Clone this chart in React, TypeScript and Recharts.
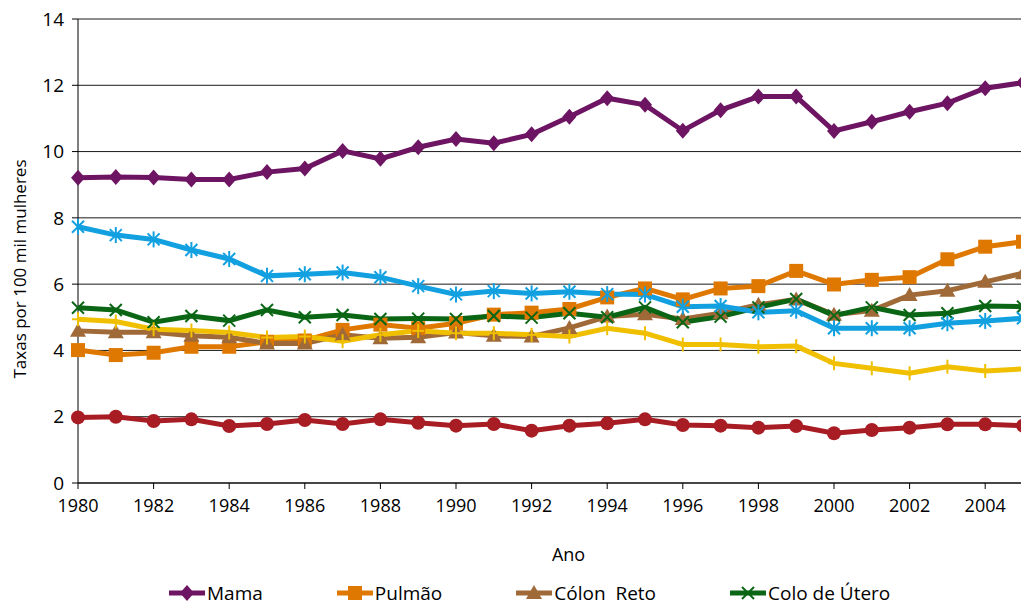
import React from 'react';
import { LineChart, Line, XAxis, YAxis, CartesianGrid, Label } from 'recharts';

const anos = [1980, 1981, 1982, 1983, 1984, 1985, 1986, 1987, 1988, 1989, 1990, 1991, 1992,
  1993, 1994, 1995, 1996, 1997, 1998, 1999, 2000, 2001, 2002, 2003, 2004, 2005];

const mama = [9.21, 9.23, 9.22, 9.16, 9.16, 9.38, 9.49, 10.02, 9.78, 10.13, 10.38, 10.25, 10.52,
  11.05, 11.61, 11.41, 10.63, 11.25, 11.66, 11.66, 10.62, 10.9, 11.2, 11.46, 11.91, 12.08];
const pulmao = [4.01, 3.86, 3.93, 4.11, 4.11, 4.26, 4.3, 4.62, 4.78, 4.67, 4.82, 5.08, 5.14,
  5.25, 5.6, 5.87, 5.54, 5.87, 5.94, 6.4, 5.99, 6.13, 6.21, 6.75, 7.13, 7.28];
const colonReto = [4.59, 4.55, 4.55, 4.44, 4.4, 4.21, 4.21, 4.47, 4.37, 4.4, 4.54, 4.44, 4.42,
  4.68, 5.02, 5.09, 4.95, 5.12, 5.38, 5.54, 5.08, 5.2, 5.67, 5.8, 6.07, 6.33];
const coloUtero = [5.29, 5.22, 4.85, 5.04, 4.9, 5.22, 5.0, 5.07, 4.95, 4.96, 4.95, 5.04, 4.99,
  5.12, 5.0, 5.3, 4.85, 5.02, 5.3, 5.55, 5.05, 5.3, 5.07, 5.12, 5.34, 5.32];
const estomago = [7.73, 7.48, 7.35, 7.03, 6.76, 6.25, 6.3, 6.35, 6.21, 5.94, 5.69, 5.79, 5.72,
  5.77, 5.7, 5.69, 5.32, 5.34, 5.15, 5.2, 4.67, 4.67, 4.67, 4.82, 4.89, 4.97];
const uteroSoe = [4.94, 4.87, 4.64, 4.6, 4.54, 4.39, 4.42, 4.28, 4.47, 4.59, 4.52, 4.52, 4.47,
  4.42, 4.67, 4.52, 4.18, 4.18, 4.11, 4.13, 3.61, 3.46, 3.31, 3.51, 3.38, 3.44];
const esofago = [1.98, 2.0, 1.87, 1.92, 1.72, 1.78, 1.9, 1.78, 1.92, 1.82, 1.73, 1.78, 1.58,
  1.73, 1.8, 1.92, 1.75, 1.73, 1.67, 1.72, 1.5, 1.6, 1.67, 1.77, 1.77, 1.73];

const xTicks = [1980, 1982, 1984, 1986, 1988, 1990, 1992, 1994, 1996, 1998, 2000, 2002, 2004];
const yTicks = [0, 2, 4, 6, 8, 10, 12, 14];

const data = anos.map((ano, i) => ({
  ano,
  mama: mama[i],
  pulmao: pulmao[i],
  colonReto: colonReto[i],
  coloUtero: coloUtero[i],
  estomago: estomago[i],
  uteroSoe: uteroSoe[i],
  esofago: esofago[i],
}));

type Shape = 'diamond' | 'square' | 'triangle' | 'x' | 'star' | 'plus' | 'circle';

const series: { key: string; name: string; color: string; shape: Shape; legend: boolean }[] = [
  { key: 'mama', name: 'Mama', color: '#6d1562', shape: 'diamond', legend: true },
  { key: 'pulmao', name: 'Pulmão', color: '#df7800', shape: 'square', legend: true },
  { key: 'colonReto', name: 'Cólon  Reto', color: '#a06a38', shape: 'triangle', legend: true },
  { key: 'coloUtero', name: 'Colo de Útero', color: '#0a6614', shape: 'x', legend: true },
  { key: 'estomago', name: 'Estômago', color: '#12a0e0', shape: 'star', legend: false },
  { key: 'uteroSoe', name: 'Útero SOE', color: '#f0c000', shape: 'plus', legend: false },
  { key: 'esofago', name: 'Esôfago', color: '#a81c24', shape: 'circle', legend: false },
];

const Marker = ({ shape, cx, cy, color }: { shape: Shape; cx: number; cy: number; color: string }) => {
  switch (shape) {
    case 'diamond':
      return <polygon points={`${cx},${cy - 8} ${cx + 7},${cy} ${cx},${cy + 8} ${cx - 7},${cy}`} fill={color} />;
    case 'square':
      return <rect x={cx - 7} y={cy - 7} width={14} height={14} fill={color} />;
    case 'triangle':
      return <polygon points={`${cx},${cy - 8} ${cx + 8},${cy + 6} ${cx - 8},${cy + 6}`} fill={color} />;
    case 'x':
      return (
        <g stroke={color} strokeWidth={2}>
          <line x1={cx - 6} y1={cy - 6} x2={cx + 6} y2={cy + 6} />
          <line x1={cx - 6} y1={cy + 6} x2={cx + 6} y2={cy - 6} />
        </g>
      );
    case 'star':
      return (
        <g stroke={color} strokeWidth={2}>
          <line x1={cx - 6} y1={cy - 6} x2={cx + 6} y2={cy + 6} />
          <line x1={cx - 6} y1={cy + 6} x2={cx + 6} y2={cy - 6} />
          <line x1={cx} y1={cy - 8} x2={cx} y2={cy + 8} />
        </g>
      );
    case 'plus':
      return (
        <g stroke={color} strokeWidth={2}>
          <line x1={cx} y1={cy - 7} x2={cx} y2={cy + 7} />
          <line x1={cx - 6} y1={cy} x2={cx + 6} y2={cy} />
        </g>
      );
    default:
      return <circle cx={cx} cy={cy} r={7} fill={color} />;
  }
};

const font = '"Open Sans", sans-serif';

const LegendBox = () => (
  <div
    style={{
      position: 'absolute',
      top: 575,
      left: 159,
      display: 'flex',
      gap: 72,
      fontFamily: font,
      fontSize: 19,
      lineHeight: '20px',
      color: '#000',
      whiteSpace: 'pre',
    }}
  >
    {series.filter((s) => s.legend).map((s) => (
      <div key={s.key} style={{ display: 'flex', alignItems: 'center', height: 20 }}>
        <svg width={40} height={20}>
          <line x1={2} y1={10} x2={38} y2={10} stroke={s.color} strokeWidth={5} />
          <Marker shape={s.shape} cx={20} cy={10} color={s.color} />
        </svg>
        <span>{s.name}</span>
      </div>
    ))}
  </div>
);

export default function App() {
  return (
    <div style={{ position: 'relative', width: 1021, height: 596 }}>
      <div style={{ position: 'absolute', top: -8, left: 0 }}>
        <LineChart
          width={1021}
          height={568}
          data={data}
          margin={{ top: 19, right: 6, left: 20, bottom: 45 }}
        >
          <CartesianGrid vertical={false} stroke="#1a1a1a" strokeWidth={1} />
          <XAxis
            dataKey="ano"
            type="number"
            domain={[1980, 2005]}
            ticks={xTicks}
            interval={0}
            height={40}
            stroke="#000"
            tickSize={6}
            tickMargin={10}
            tick={{ fontSize: 18, fill: '#000', fontFamily: font }}
          >
            <Label
              value="Ano"
              position="bottom"
              offset={25}
              dx={18}
              style={{ fontSize: 18, fill: '#000', fontFamily: font }}
            />
          </XAxis>
          <YAxis
            domain={[0, 14]}
            ticks={yTicks}
            width={50}
            stroke="#000"
            tickSize={6}
            tickMargin={8}
            tick={{ fontSize: 19, fill: '#000', fontFamily: font }}
          >
            <Label
              value="Taxas por 100 mil mulheres"
              angle={-90}
              position="insideLeft"
              offset={-8}
              dy={18}
              style={{ fontSize: 17, fill: '#000', fontFamily: font, textAnchor: 'middle' }}
            />
          </YAxis>
          {series.map((s) => (
            <Line
              key={s.key}
              dataKey={s.key}
              name={s.name}
              stroke={s.color}
              strokeWidth={5}
              isAnimationActive={false}
              dot={(p: any) => (
                <Marker key={`${s.key}-${p.index}`} shape={s.shape} cx={p.cx} cy={p.cy} color={s.color} />
              )}
              activeDot={false}
            />
          ))}
        </LineChart>
      </div>
      <LegendBox />
    </div>
  );
}
